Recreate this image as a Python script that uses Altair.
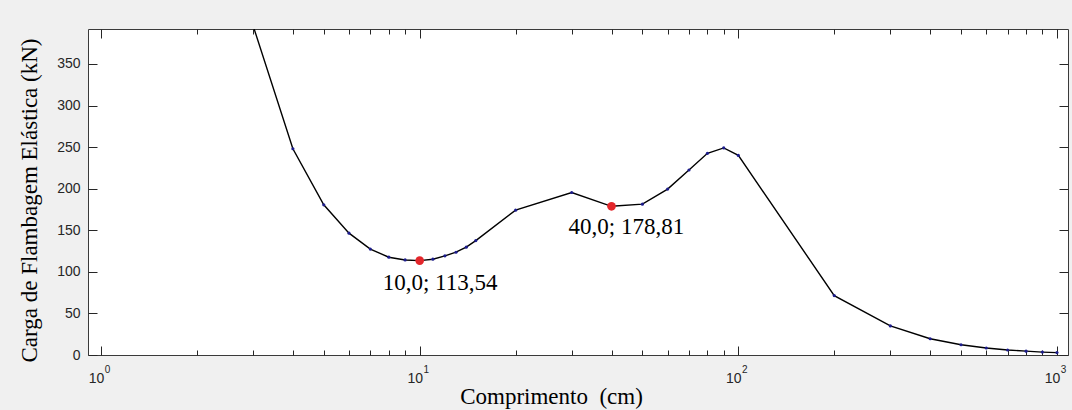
import altair as alt
import pandas as pd

# ---- data ----
length_cm = [3, 4, 5, 6, 7, 8, 9, 10, 11, 12, 13, 14, 15, 20, 30, 40, 50, 60,
             70, 80, 90, 100, 200, 300, 400, 500, 600, 700, 800, 900, 1000]
load_kn = [396.0, 248.0, 180.6, 146.5, 127.4, 117.6, 114.3, 113.54, 115.2, 119.2,
           123.6, 129.7, 137.6, 174.2, 195.4, 178.81, 181.4, 199.5, 222.5, 242.5,
           249.0, 240.0, 71.4, 35.0, 19.5, 12.3, 8.4, 6.0, 4.6, 3.5, 2.9]
highlight_cm = [10.0, 40.0]
highlight_kn = [113.54, 178.81]
highlight_text = ["10,0; 113,54", "40,0; 178,81"]
x_major = [1, 10, 100, 1000]
x_major_base = ["10", "10", "10", "10"]
x_major_exp = ["0", "1", "2", "3"]
x_minor = [2, 3, 4, 5, 6, 7, 8, 9, 20, 30, 40, 50, 60, 70, 80, 90,
           200, 300, 400, 500, 600, 700, 800, 900]
y_ticks = [0, 50, 100, 150, 200, 250, 300, 350]

W, H = 980, 326

df = pd.DataFrame({"L": length_cm, "P": load_kn})
hl = pd.DataFrame({"L": highlight_cm, "P": highlight_kn, "t": highlight_text})

xs = alt.Scale(type="log", domain=[0.91, 1083], nice=False)
ys = alt.Scale(domain=[0, 392], nice=False)


def expr_for(labels):
    return " : ".join(f"datum.value == {v} ? '{t}'" for v, t in zip(x_major, labels)) + " : ''"


def X(axis):
    return alt.X("L:Q", scale=xs, axis=axis)


def Y(axis):
    return alt.Y("P:Q", scale=ys, axis=axis)


def tick_axis(orient, offset, values, size):
    return alt.Axis(orient=orient, offset=offset, values=values, ticks=True,
                    tickSize=size, labels=False, domain=False, grid=False, title=None)


base = alt.Chart(df)

line = base.mark_line(color="black", strokeWidth=1.4, clip=True).encode(
    x=X(alt.Axis(orient="bottom", values=x_major, labelExpr=expr_for(x_major_base),
                 ticks=False, tickSize=0, domain=False, grid=False, labelPadding=16,
                 labelOffset=-5,
                 title="Comprimento\u00a0 (cm)", titleX=463, titleY=48,
                 titleAlign="center", titleBaseline="alphabetic")),
    y=Y(alt.Axis(orient="left", values=y_ticks, ticks=False, tickSize=0, domain=False,
                 grid=False, labelPadding=8, title="Carga de Flambagem Elástica (kN)",
                 titleX=-52, titleY=171, titleAlign="center",
                 titleBaseline="alphabetic")),
)

exp_layer = base.mark_circle(opacity=0, clip=True).encode(
    x=X(alt.Axis(orient="bottom", values=x_major, labelExpr=expr_for(x_major_exp),
                 ticks=False, tickSize=0, domain=False, grid=False, labelPadding=9,
                 labelOffset=6, labelFontSize=10, title=None)),
    y=Y(None),
)

points = base.mark_circle(size=10, color="#1c1c8c", opacity=1, clip=True).encode(
    x=X(tick_axis("top", -H, x_major, 9)),
    y=Y(tick_axis("right", -W, y_ticks, 9)),
)

ghost1 = base.mark_circle(opacity=0, clip=True).encode(
    x=X(tick_axis("top", -H, x_minor, 5)),
    y=Y(tick_axis("left", -W, y_ticks, 9)),
)
ghost2 = base.mark_circle(opacity=0, clip=True).encode(
    x=X(tick_axis("bottom", -H, x_major, 9)),
    y=Y(None),
)
ghost3 = base.mark_circle(opacity=0, clip=True).encode(
    x=X(tick_axis("bottom", -H, x_minor, 5)),
    y=Y(None),
)

red = alt.Chart(hl).mark_circle(size=75, color="#e3262b", opacity=1).encode(
    x=X(None), y=Y(None)
)

text1 = alt.Chart(hl).transform_filter(alt.datum.L == highlight_cm[0]).mark_text(
    font="Liberation Serif", fontSize=23, color="black", align="left",
    baseline="middle", dx=-37, dy=22
).encode(x=X(None), y=Y(None), text="t:N")

text2 = alt.Chart(hl).transform_filter(alt.datum.L == highlight_cm[1]).mark_text(
    font="Liberation Serif", fontSize=23, color="black", align="left",
    baseline="middle", dx=-43, dy=21
).encode(x=X(None), y=Y(None), text="t:N")

chart = (
    alt.layer(line, exp_layer, ghost1, ghost2, ghost3, points, red, text1, text2)
    .resolve_scale(x="shared", y="shared")
    .resolve_axis(x="independent", y="independent")
    .properties(
        width=W, height=H, background="#f0f0f0",
        padding={"left": 88, "top": 29, "right": 4, "bottom": 55},
        autosize=alt.AutoSizeParams(type="none"),
    )
    .configure_view(fill="white", stroke="#3a3a3a", strokeWidth=1)
    .configure_axis(labelFont="Liberation Sans", labelFontSize=14, labelColor="#262626",
                    tickColor="#262626", tickWidth=1, titleFont="Liberation Serif",
                    titleFontSize=23, titleFontWeight="normal", titleColor="black")
)

chart.save("out.html", embed_options={"renderer": "svg", "actions": False})
